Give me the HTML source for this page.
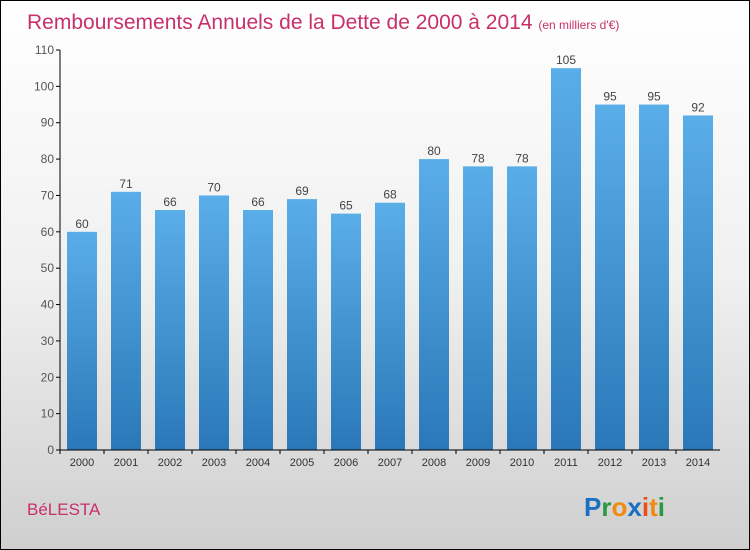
<!DOCTYPE html>
<html><head><meta charset="utf-8"><style>
body{margin:0}
#c{width:748px;height:548px;border:1px solid #000;background:linear-gradient(#fff 0%,#f0f0f0 50%,#cfcfcf 100%);position:relative;font-family:"Liberation Sans",sans-serif}
</style></head><body>
<div id="c">
<svg width="748" height="548" style="position:absolute;left:0;top:0" id="svg">
<defs><linearGradient id="bg" x1="0" y1="0" x2="0" y2="1"><stop offset="0" stop-color="#5aaee8"/><stop offset="1" stop-color="#2a78b8"/></linearGradient></defs>
<text x="26" y="28" font-size="21" fill="#c8306a">Remboursements Annuels de la Dette de 2000 à 2014 <tspan font-size="12">(en milliers d'€)</tspan></text>
<text x="26" y="514" font-size="17" fill="#c8306a">BéLESTA</text>
<text x="583" y="515" font-size="26" font-weight="bold"><tspan fill="#1a6fc0">P</tspan><tspan fill="#2a9a40">r</tspan><tspan fill="#f08a10">o</tspan><tspan fill="#1a6fc0">x</tspan><tspan fill="#e8501a">i</tspan><tspan fill="#f08a10">t</tspan><tspan fill="#2a9a40">i</tspan></text>
<g id="plot"></g>
</svg>
</div>
<script>
const categories=["2000","2001","2002","2003","2004","2005","2006","2007","2008","2009","2010","2011","2012","2013","2014"];
const values=[60,71,66,70,66,69,65,68,80,78,78,105,95,95,92];
const ticks=[0,10,20,30,40,50,60,70,80,90,100,110];
const ns="http://www.w3.org/2000/svg";
const g=document.getElementById('plot');
const x0=59,y0=449,yTop=49,ymax=110,step=44,first=81,bw=30;
const y=v=>y0-(v/ymax)*(y0-yTop);
const xc=i=>first+i*step;
function mk(t,a){const e=document.createElementNS(ns,t);for(const k in a)e.setAttribute(k,a[k]);g.appendChild(e);return e;}
ticks.forEach(t=>{
const l=mk('line',{x1:x0-4,x2:x0,y1:y(t),y2:y(t),stroke:'#000'});


const tx=mk('text',{x:x0-6,y:y(t)+4,'font-size':12,fill:'#555','text-anchor':'end'});tx.textContent=t;


});
values.forEach((v,i)=>{
const r=mk('rect',{x:xc(i)-bw/2,y:y(v),width:bw,height:y0-y(v),fill:'url(#bg)'});


const t=mk('text',{x:xc(i),y:y(v)-4,'font-size':12,fill:'#444','text-anchor':'middle'});t.textContent=v;


const tk=mk('line',{x1:xc(i)-step/2,x2:xc(i)-step/2,y1:y0,y2:y0+4,stroke:'#000'});


const xl=mk('text',{x:xc(i),y:y0+16,'font-size':11,fill:'#333','text-anchor':'middle'});xl.textContent=categories[i];


});
const ya=mk('line',{x1:x0,x2:x0,y1:yTop,y2:y0,stroke:'#000'});


const xa=mk('line',{x1:x0,x2:xc(values.length-1)+step/2,y1:y0,y2:y0,stroke:'#000'});


</script>
</body></html>
